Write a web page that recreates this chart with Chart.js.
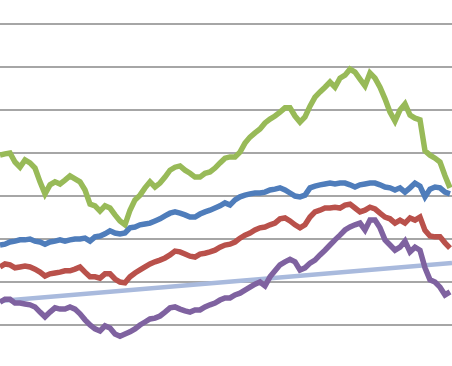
<!DOCTYPE html>
<html>
<head>
<meta charset="utf-8">
<script src="https://cdn.jsdelivr.net/npm/chart.js@4/dist/chart.umd.min.js"></script>
<style>
    body { margin: 0; background: #ffffff; }
    #chart_box { width: 452px; height: 366px; }
    #canvas { filter: blur(0.5px); }
</style>
</head>
<body>
<div id="chart_box"><canvas id="canvas" width="452" height="366"></canvas></div>
<script>
// one reading every 5 px along the picture, 91 readings per series
var greenValues = [39.5, 39.8, 40.0, 37.9, 36.7, 38.4, 37.7, 36.5, 33.3, 30.5,
    32.6, 33.3, 32.8, 33.7, 34.7, 34.0, 33.3, 31.4, 28.1, 27.7,
    26.5, 27.7, 27.2, 25.6, 24.2, 23.3, 26.7, 29.1, 30.2, 31.9,
    33.3, 32.1, 33.0, 34.4, 36.0, 36.7, 37.0, 36.0, 35.3, 34.4,
    34.4, 35.3, 35.6, 36.5, 37.7, 38.8, 39.1, 39.1, 40.2, 42.3,
    43.7, 44.7, 45.6, 47.0, 47.9, 48.6, 49.5, 50.5, 50.5, 48.6,
    47.2, 48.4, 50.9, 53.0, 54.2, 55.3, 56.5, 55.3, 57.4, 58.1,
    59.5, 58.8, 57.2, 55.6, 58.6, 57.4, 55.3, 52.6, 49.5, 47.4,
    50.0, 51.4, 48.8, 48.1, 47.7, 40.5, 39.5, 38.8, 37.9, 34.7, 31.9];

var blueValues = [18.6, 18.8, 19.3, 19.5, 19.8, 19.8, 20.0, 19.5, 19.3, 18.8,
    19.3, 19.5, 19.8, 19.5, 19.8, 20.0, 20.0, 20.2, 19.5, 20.5,
    20.7, 21.2, 21.9, 21.4, 21.2, 21.4, 22.6, 22.8, 23.3, 23.5,
    23.7, 24.2, 24.7, 25.4, 26.0, 26.3, 26.0, 25.6, 25.1, 25.1,
    25.8, 26.3, 26.7, 27.2, 27.7, 28.4, 27.9, 29.1, 29.8, 30.2,
    30.5, 30.7, 30.7, 30.9, 31.4, 31.6, 31.9, 31.4, 30.7, 30.0,
    29.8, 30.2, 31.9, 32.3, 32.6, 32.8, 33.0, 32.8, 33.0, 33.0,
    32.6, 32.1, 32.6, 32.8, 33.0, 33.0, 32.6, 32.1, 31.9, 31.4,
    31.9, 30.9, 31.9, 33.0, 32.3, 29.8, 31.6, 32.1, 31.9, 30.9, 30.5];

var redValues = [13.5, 14.2, 14.0, 13.3, 13.5, 13.7, 13.5, 13.0, 12.3, 11.4,
    11.9, 12.1, 12.3, 12.6, 12.6, 13.0, 13.5, 12.3, 11.2, 11.2,
    10.9, 11.9, 11.9, 10.7, 10.0, 9.8, 11.2, 12.1, 12.8, 13.5,
    14.2, 14.7, 15.1, 15.6, 16.3, 17.2, 17.0, 16.5, 16.0, 15.8,
    16.5, 16.7, 17.0, 17.4, 18.1, 18.6, 18.8, 19.3, 20.2, 20.9,
    21.4, 22.1, 22.6, 22.8, 23.3, 23.7, 24.7, 24.9, 24.2, 23.3,
    22.6, 23.3, 25.1, 26.3, 26.7, 27.2, 27.2, 27.4, 27.2, 27.9,
    28.1, 27.2, 26.3, 26.7, 27.4, 27.0, 26.0, 25.1, 24.7, 23.7,
    24.4, 23.7, 24.9, 24.4, 25.1, 22.0, 20.7, 20.5, 20.5, 19.1, 17.9];

var purpleValues = [5.3, 6.0, 6.0, 5.1, 5.1, 4.9, 4.7, 4.2, 3.0, 1.9,
    3.0, 4.0, 3.7, 3.7, 4.2, 3.7, 2.6, 1.2, 0.0, -0.9,
    -1.4, -0.2, -0.7, -2.1, -2.6, -2.1, -1.6, -0.9, 0.0, 0.7,
    1.4, 1.6, 2.1, 3.0, 4.0, 4.2, 3.7, 3.3, 3.0, 3.5,
    3.5, 4.2, 4.7, 5.1, 5.8, 6.3, 6.3, 7.0, 7.4, 8.1,
    8.8, 9.5, 10.0, 9.1, 11.2, 12.6, 14.0, 14.7, 15.3, 14.7,
    12.8, 13.3, 14.4, 15.1, 16.3, 17.4, 18.6, 19.8, 20.9, 22.1,
    22.8, 23.3, 23.7, 22.1, 24.4, 24.4, 22.6, 19.8, 18.6, 17.4,
    18.1, 19.5, 17.0, 18.1, 17.4, 13.3, 10.5, 10.0, 8.8, 7.0, 7.7];

// straight trend line, first and last reading
var trendDays = [0, 90.4];
var trendValues = [5.6, 14.4];

var gridTicks = [0, 10, 20, 30, 40, 50, 60, 70];

function ks_points(values) {
    var pts = [];
    for (var i = 0; i < values.length; i++) {
        pts.push({x: i, y: values[i]});
    }
    return pts;
}

function ks_line(values, color, width, order) {
    return {
        data: values,
        borderColor: color,
        backgroundColor: color,
        borderWidth: width,
        pointRadius: 0,
        tension: 0,
        fill: false,
        order: order
    };
}

var trendPts = [];
for (var t = 0; t < trendDays.length; t++) {
    trendPts.push({x: trendDays[t], y: trendValues[t]});
}

var ctx = document.getElementById('canvas').getContext('2d');
var myChart = new Chart(ctx, {
    type: 'line',
    data: {
        datasets: [
            ks_line(ks_points(purpleValues), '#7f62a0', 5.5, 1),
            ks_line(trendPts, '#a9badd', 4.5, 2),
            ks_line(ks_points(redValues), '#b9514b', 5.5, 3),
            ks_line(ks_points(blueValues), '#4f7dbb', 5.5, 4),
            ks_line(ks_points(greenValues), '#98ba58', 5.5, 5)
        ]
    },
    options: {
        responsive: false,
        animation: false,
        layout: {padding: 0},
        plugins: {
            legend: {display: false},
            tooltip: {enabled: false}
        },
        scales: {
            x: {
                type: 'linear',
                display: false,
                min: 0,
                max: 90.4
            },
            y: {
                type: 'linear',
                min: -9.53,
                max: 75.58,
                afterBuildTicks: function (axis) {
                    axis.ticks = gridTicks.map(function (v) { return {value: v}; });
                },
                ticks: {display: false},
                border: {display: false},
                grid: {
                    color: '#a6a6a6',
                    lineWidth: 2,
                    drawTicks: false
                }
            }
        }
    }
});
</script>
</body>
</html>
